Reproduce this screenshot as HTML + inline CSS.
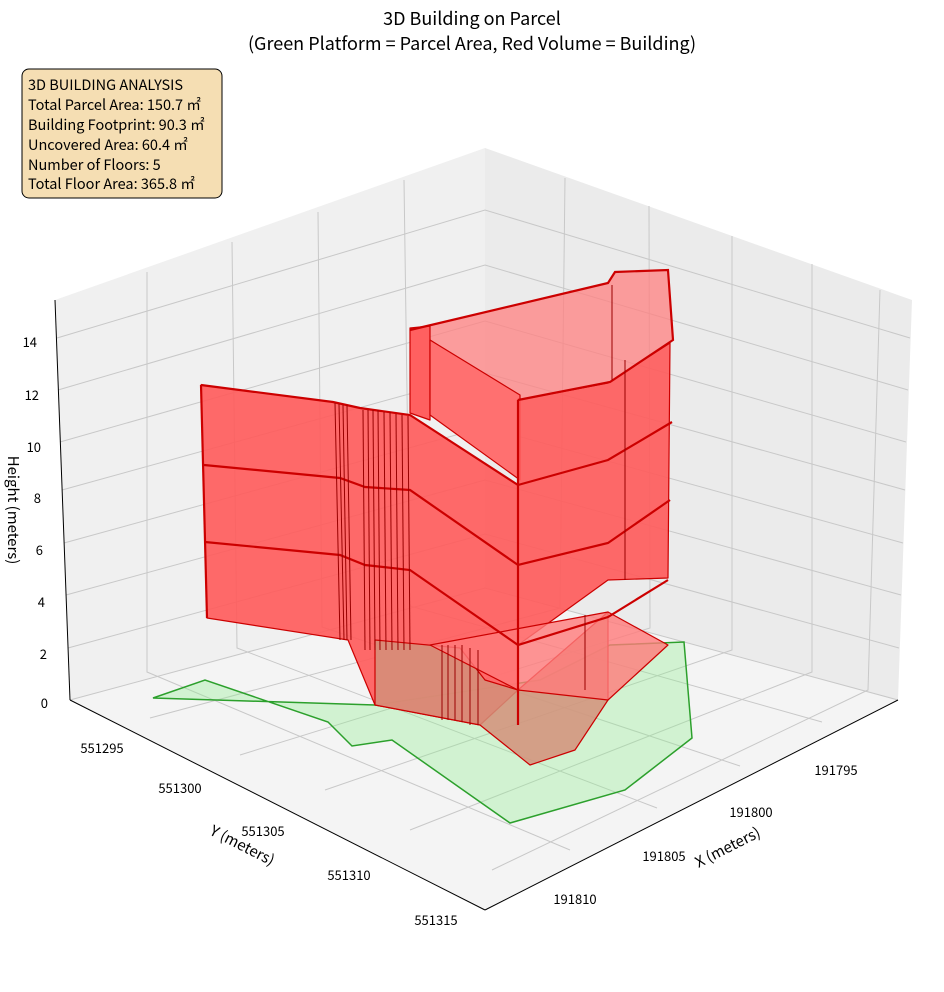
<!DOCTYPE html>
<html><head><meta charset="utf-8"><style>
body{margin:0;background:#fff;}
svg{display:block;font-family:"Noto Sans CJK JP","Liberation Sans",sans-serif;}
</style></head><body>
<svg width="944" height="992" viewBox="0 0 944 992" xmlns="http://www.w3.org/2000/svg">
<rect width="944" height="992" fill="#fff"/>
<text x="472" y="25" font-size="18" text-anchor="middle">3D Building on Parcel</text>
<text x="472" y="50" font-size="18" text-anchor="middle">(Green Platform = Parcel Area, Red Volume = Building)</text>
<polygon points="55,300 485,148 485,588 70,700" fill="#f0f0f0"/>
<polygon points="485,148 912,300 898,700 485,588" fill="#ebebeb"/>
<polygon points="70,700 485,588 898,700 485,910" fill="#f4f4f4"/>
<g stroke="#c8c8c8" stroke-width="1" fill="none">
<polyline points="70,700 485,588 898,700"/>
<polyline points="68,648 485,534 899,648"/>
<polyline points="66,595 485,480 901,595"/>
<polyline points="64,543 485,427 903,543"/>
<polyline points="62,490 485,373 905,490"/>
<polyline points="60,442 485,321 906,442"/>
<polyline points="58,390 485,265 908,390"/>
<polyline points="57,338 485,210 910,338"/>
<polyline points="147,272 147,672 570,850"/>
<polyline points="232,242 237,648 657,808"/>
<polyline points="318,212 322,627 740,766"/>
<polyline points="404,180 410,606 822,722"/>
<polyline points="565,178 560,608 150,718"/>
<polyline points="649,206 650,628 240,755"/>
<polyline points="732,236 732,650 325,790"/>
<polyline points="812,264 812,672 410,830"/>
<polyline points="880,290 868,690 492,870"/>
</g>
<g stroke="#000" stroke-width="1" fill="none">
<line x1="55" y1="300" x2="70" y2="700"/>
<line x1="70" y1="700" x2="485" y2="910"/>
<line x1="485" y1="910" x2="898" y2="700"/>
</g>
<g font-size="13" fill="#000">
<text x="48" y="708" text-anchor="end">0</text>
<text x="47" y="659" text-anchor="end">2</text>
<text x="45" y="607" text-anchor="end">4</text>
<text x="43" y="555" text-anchor="end">6</text>
<text x="41" y="503" text-anchor="end">8</text>
<text x="41" y="452" text-anchor="end">10</text>
<text x="39" y="400" text-anchor="end">12</text>
<text x="37" y="347" text-anchor="end">14</text>
<text x="102" y="753" text-anchor="middle">551295</text>
<text x="180" y="793" text-anchor="middle">551300</text>
<text x="263" y="836" text-anchor="middle">551305</text>
<text x="349" y="880" text-anchor="middle">551310</text>
<text x="436" y="925" text-anchor="middle">551315</text>
<text x="836" y="775" text-anchor="middle">191795</text>
<text x="751" y="817" text-anchor="middle">191800</text>
<text x="664" y="861" text-anchor="middle">191805</text>
<text x="575" y="904" text-anchor="middle">191810</text>
</g>
<text x="240" y="850" font-size="15" transform="rotate(27 240 850)" text-anchor="middle">Y (meters)</text>
<text x="730" y="852" font-size="15" transform="rotate(-27 730 852)" text-anchor="middle">X (meters)</text>
<text x="8" y="510" font-size="15" transform="rotate(90 8 510)" text-anchor="middle">Height (meters)</text>
<polygon points="153,698 205,680 328,722 352,746 392,740 510,823 625,790 692,738 684,642 610,645 540,680 375,705" fill="#90ee90" fill-opacity="0.35" stroke="#2ca02c" stroke-width="1.5"/>
<g stroke="#cc0000" stroke-width="1.2" stroke-linejoin="round">
<polygon points="410,330 608,283 615,272 668,270 673,340 610,382 520,400 430,340" fill="#ff8080" fill-opacity="0.75"/>
<polygon points="410,328 430,326 430,420 410,413" fill="#ff6060"/>
<polygon points="430,340 520,395 520,480 430,415" fill="#ff7070"/>
<polygon points="201,385 333,402 360,408 410,415 518,485 518,690 480,725 375,705 348,640 207,618" fill="#ff5a5a" fill-opacity="0.9"/>
<polygon points="518,400 608,383 670,343 668,578 608,580 518,645" fill="#ff5a5a" fill-opacity="0.9"/>
<polygon points="375,640 460,648 485,680 518,690 608,612 608,700 575,750 530,765 480,725 375,705" fill="#d4907a" fill-opacity="0.85"/>
<polygon points="430,645 608,612 668,645 608,700 518,690" fill="#ff7a7a" fill-opacity="0.8"/>
</g>
<g stroke="#cc0000" stroke-width="2.2" fill="none">
<polyline points="201,385 333,402 360,408 410,415 518,485"/>
<polyline points="204,465 340,478 365,487 410,490 518,565 608,543 670,500"/>
<polyline points="205,542 340,555 365,565 410,570 518,645 608,617 668,580"/>
<polyline points="518,485 608,460 672,422"/>
<polyline points="410,330 608,283 615,272 668,270 673,340 610,382 518,400"/>
<line x1="201" y1="385" x2="207" y2="618"/>
<line x1="518" y1="400" x2="518" y2="725"/>
</g>
<g stroke="#990000" stroke-width="1">
<line x1="335" y1="403" x2="340" y2="640"/><line x1="339" y1="404" x2="344" y2="640"/>
<line x1="343" y1="405" x2="347" y2="640"/><line x1="347" y1="405" x2="351" y2="640"/>
<line x1="363" y1="410" x2="365" y2="650"/><line x1="368" y1="410" x2="370" y2="650"/>
<line x1="373" y1="410" x2="375" y2="650"/><line x1="378" y1="410" x2="380" y2="650"/>
<line x1="384" y1="412" x2="386" y2="650"/><line x1="390" y1="412" x2="392" y2="650"/>
<line x1="396" y1="414" x2="398" y2="650"/><line x1="402" y1="415" x2="404" y2="650"/>
<line x1="408" y1="416" x2="410" y2="650"/>
<line x1="442" y1="645" x2="442" y2="720"/><line x1="448" y1="645" x2="448" y2="720"/>
<line x1="455" y1="645" x2="455" y2="720"/><line x1="462" y1="645" x2="462" y2="722"/>
<line x1="470" y1="648" x2="470" y2="725"/><line x1="478" y1="650" x2="478" y2="725"/>
<line x1="585" y1="615" x2="585" y2="690"/>
<line x1="625" y1="360" x2="625" y2="580"/><line x1="612" y1="285" x2="612" y2="380"/>
</g>
<rect x="22" y="69" width="200" height="129" rx="7" fill="#f5deb3" stroke="#000" stroke-width="1"/>
<g font-size="14.5" fill="#000">
<text x="28" y="90">3D BUILDING ANALYSIS</text>
<text x="28" y="110">Total Parcel Area: 150.7 ㎡</text>
<text x="28" y="130">Building Footprint: 90.3 ㎡</text>
<text x="28" y="150">Uncovered Area: 60.4 ㎡</text>
<text x="28" y="170">Number of Floors: 5</text>
<text x="28" y="189">Total Floor Area: 365.8 ㎡</text>
</g>
</svg>
</body></html>
